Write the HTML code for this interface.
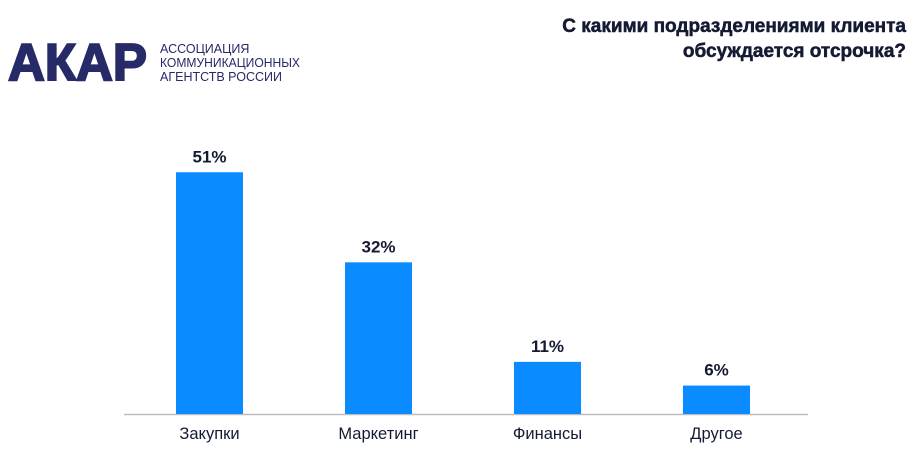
<!DOCTYPE html>
<html><head><meta charset="utf-8"><style>
body{margin:0;width:921px;height:469px;background:#fff;overflow:hidden;font-family:"Liberation Sans","DejaVu Sans",sans-serif;}
</style></head><body>
<svg width="921" height="469" xmlns="http://www.w3.org/2000/svg">
<g>
<text x="8" y="80" font-size="52" font-weight="bold" fill="#262a66" stroke="#262a66" stroke-width="2" font-family="Liberation Sans, sans-serif" textLength="139" lengthAdjust="spacingAndGlyphs">АКАР</text>
<text x="160" y="53" font-size="12.5" fill="#262a66">АССОЦИАЦИЯ</text>
<text x="160" y="67" font-size="12.5" fill="#262a66" textLength="140" lengthAdjust="spacingAndGlyphs">КОММУНИКАЦИОННЫХ</text>
<text x="160" y="81" font-size="12.5" fill="#262a66">АГЕНТСТВ РОССИИ</text>
</g>
<text x="906" y="32" font-size="19" font-weight="bold" fill="#151a33" stroke="#151a33" stroke-width="0.5" text-anchor="end">С какими подразделениями клиента</text>
<text x="906" y="57" font-size="19" font-weight="bold" fill="#151a33" stroke="#151a33" stroke-width="0.5" text-anchor="end">обсуждается отсрочка?</text>
<line x1="124" y1="414.5" x2="808" y2="414.5" stroke="#bdbdbd" stroke-width="1.5"/>
<g id="bars"></g>
</svg>
<script>
const categories=["Закупки","Маркетинг","Финансы","Другое"];
const values=[51,32,11,6];
const valueLabels=["51%","32%","11%","6%"];
const baseY=414, pxPer=4.74, x0=209.5, step=169, bw=67;
const xPos=i=>x0+i*step;
const yPos=v=>baseY-v*pxPer;
const g=document.getElementById('bars');
const NS="http://www.w3.org/2000/svg";
categories.forEach((c,i)=>{
  const r=document.createElementNS(NS,'rect');
  r.setAttribute('x',xPos(i)-bw/2);r.setAttribute('y',yPos(values[i]));
  r.setAttribute('width',bw);r.setAttribute('height',baseY-yPos(values[i]));
  r.setAttribute('fill','#0a8bff');
  
  
  g.appendChild(r);
  const t=document.createElementNS(NS,'text');
  t.setAttribute('x',xPos(i));t.setAttribute('y',yPos(values[i])-10);
  t.setAttribute('text-anchor','middle');t.setAttribute('font-size','17');t.setAttribute('font-weight','bold');t.setAttribute('fill','#151a33');
  t.textContent=valueLabels[i];
  
  
  g.appendChild(t);
  const l=document.createElementNS(NS,'text');
  l.setAttribute('x',xPos(i));l.setAttribute('y',439);
  l.setAttribute('text-anchor','middle');l.setAttribute('font-size','16.5');l.setAttribute('fill','#151a33');
  l.textContent=c;
  
  
  g.appendChild(l);
});
</script>
</body></html>
